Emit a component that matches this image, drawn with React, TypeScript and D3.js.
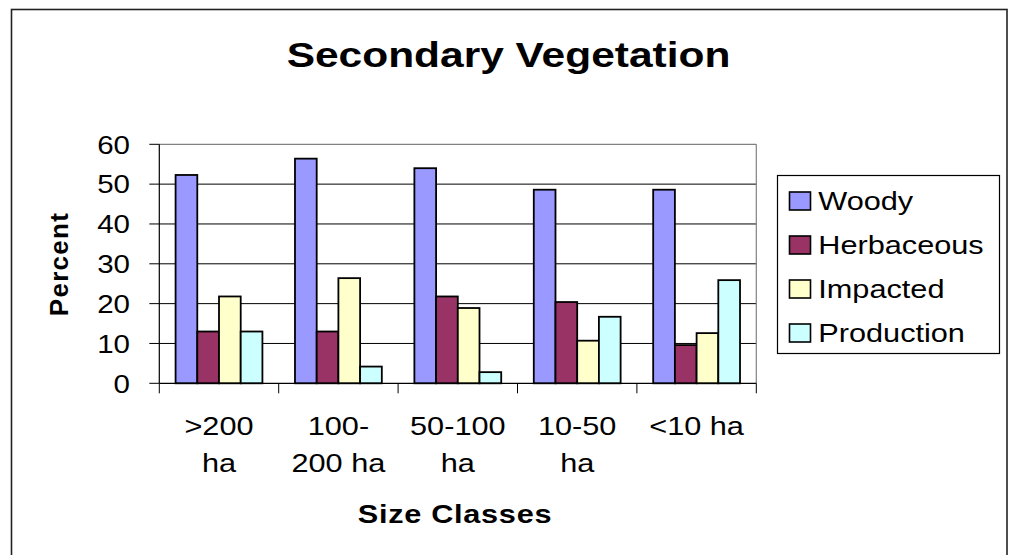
import React from "react";
import * as d3 from "d3";

const categories = [">200 ha", "100-200 ha", "50-100 ha", "10-50 ha", "<10 ha"];
const categoryLines = [[">200", "ha"], ["100-", "200 ha"], ["50-100", "ha"], ["10-50", "ha"], ["<10 ha"]];
const seriesNames = ["Woody", "Herbaceous", "Impacted", "Production"];
const woody = [52.3, 56.4, 54.0, 48.6, 48.6];
const herbaceous = [13.0, 13.0, 21.8, 20.4, 9.6];
const impacted = [21.8, 26.4, 18.9, 10.7, 12.6];
const production = [13.0, 4.2, 2.8, 16.7, 25.9];
const yTicks = [0, 10, 20, 30, 40, 50, 60];
const colors = ["#9999FF", "#993366", "#FFFFCC", "#CCFFFF"];

const seriesValues = [woody, herbaceous, impacted, production];
const FONT = "'Liberation Sans', Arial, Helvetica, sans-serif";
const SX = 1.18;

export default function App() {
  const left = 159.3, right = 756.3, top = 144.3, bottom = 383.3;
  const y = d3.scaleLinear().domain([0, 60]).range([bottom, top]);
  const x = d3.scaleBand<string>().domain(categories).range([left, right]).padding(0);
  const bw = x.bandwidth();
  const unit = bw / 5.5;
  const inner = d3.scaleBand<string>().domain(seriesNames).range([0.75 * unit, 4.75 * unit]).padding(0);

  const st = (tx: number, ty: number) => `translate(${tx},${ty}) scale(${SX},1)`;

  return (
    <svg width={1013} height={555} style={{ position: "absolute", left: 0, top: 0, display: "block", background: "#fff" }} fontFamily={FONT}>
      <rect x={0} y={0} width={1013} height={555} fill="#fff" />
      <rect x={11.5} y={9.5} width={995.5} height={600} fill="none" stroke="#222" strokeWidth={1.6} />
      <text transform={st(508.5, 67.3)} textAnchor="middle" fontSize={36} fontWeight="bold">Secondary Vegetation</text>

      {/* gridlines */}
      {yTicks.filter(t => t > 0 && t < 60).map(t => (
        <line key={t} x1={left} x2={right} y1={y(t)} y2={y(t)} stroke="#000" strokeWidth={1} />
      ))}
      {/* plot border top/right */}
      <line x1={left} x2={right} y1={y(60)} y2={y(60)} stroke="#808080" strokeWidth={1.2} />
      <line x1={right} x2={right} y1={y(60)} y2={bottom} stroke="#808080" strokeWidth={1.2} />

      {/* bars */}
      {categories.map((c, ci) => seriesNames.map((s, si) => {
        const v = seriesValues[si][ci];
        return (
          <rect key={c + s} x={(x(c) as number) + (inner(s) as number)} y={y(v)} width={inner.bandwidth()} height={bottom - y(v)}
            fill={colors[si]} stroke="#000" strokeWidth={1.8} />
        );
      }))}

      {/* axes */}
      <line x1={left} x2={left} y1={top} y2={bottom} stroke="#000" strokeWidth={1.2} />
      <line x1={left} x2={right} y1={bottom} y2={bottom} stroke="#000" strokeWidth={1.2} />
      {yTicks.map(t => (
        <g key={t}>
          <line x1={left - 10} x2={left} y1={y(t)} y2={y(t)} stroke="#000" strokeWidth={1} />
          <text transform={st(130, y(t) + 9.3)} textAnchor="end" fontSize={25}>{t}</text>
        </g>
      ))}
      {categories.map((c) => (
        <line key={c} x1={x(c) as number} x2={x(c) as number} y1={bottom} y2={bottom + 10} stroke="#000" strokeWidth={1} />
      ))}
      <line x1={right} x2={right} y1={bottom} y2={bottom + 10} stroke="#000" strokeWidth={1} />
      {categories.map((c, ci) => (
        <g key={"l" + c}>
          {categoryLines[ci].map((ln, li) => (
            <text key={li} transform={st((x(c) as number) + bw / 2, 435 + li * 36.7)} textAnchor="middle" fontSize={26}>{ln}</text>
          ))}
        </g>
      ))}

      <text transform={`translate(67.5,264) rotate(-90)`} textAnchor="middle" fontSize={26} fontWeight="bold" letterSpacing={1.3}>Percent</text>
      <text transform={st(455, 523.3)} textAnchor="middle" fontSize={26} fontWeight="bold" letterSpacing={0.6}>Size Classes</text>

      {/* legend */}
      <rect x={777.5} y={175.5} width={222} height={178} fill="#fff" stroke="#000" strokeWidth={1.2} />
      {seriesNames.map((s, si) => {
        const cy = 201 + si * 44;
        return (
          <g key={s}>
            <rect x={789.5} y={cy - 9} width={21} height={18} fill={colors[si]} stroke="#000" strokeWidth={1.6} />
            <text transform={st(818.3, cy + 9)} fontSize={26}>{s}</text>
          </g>
        );
      })}
    </svg>
  );
}
